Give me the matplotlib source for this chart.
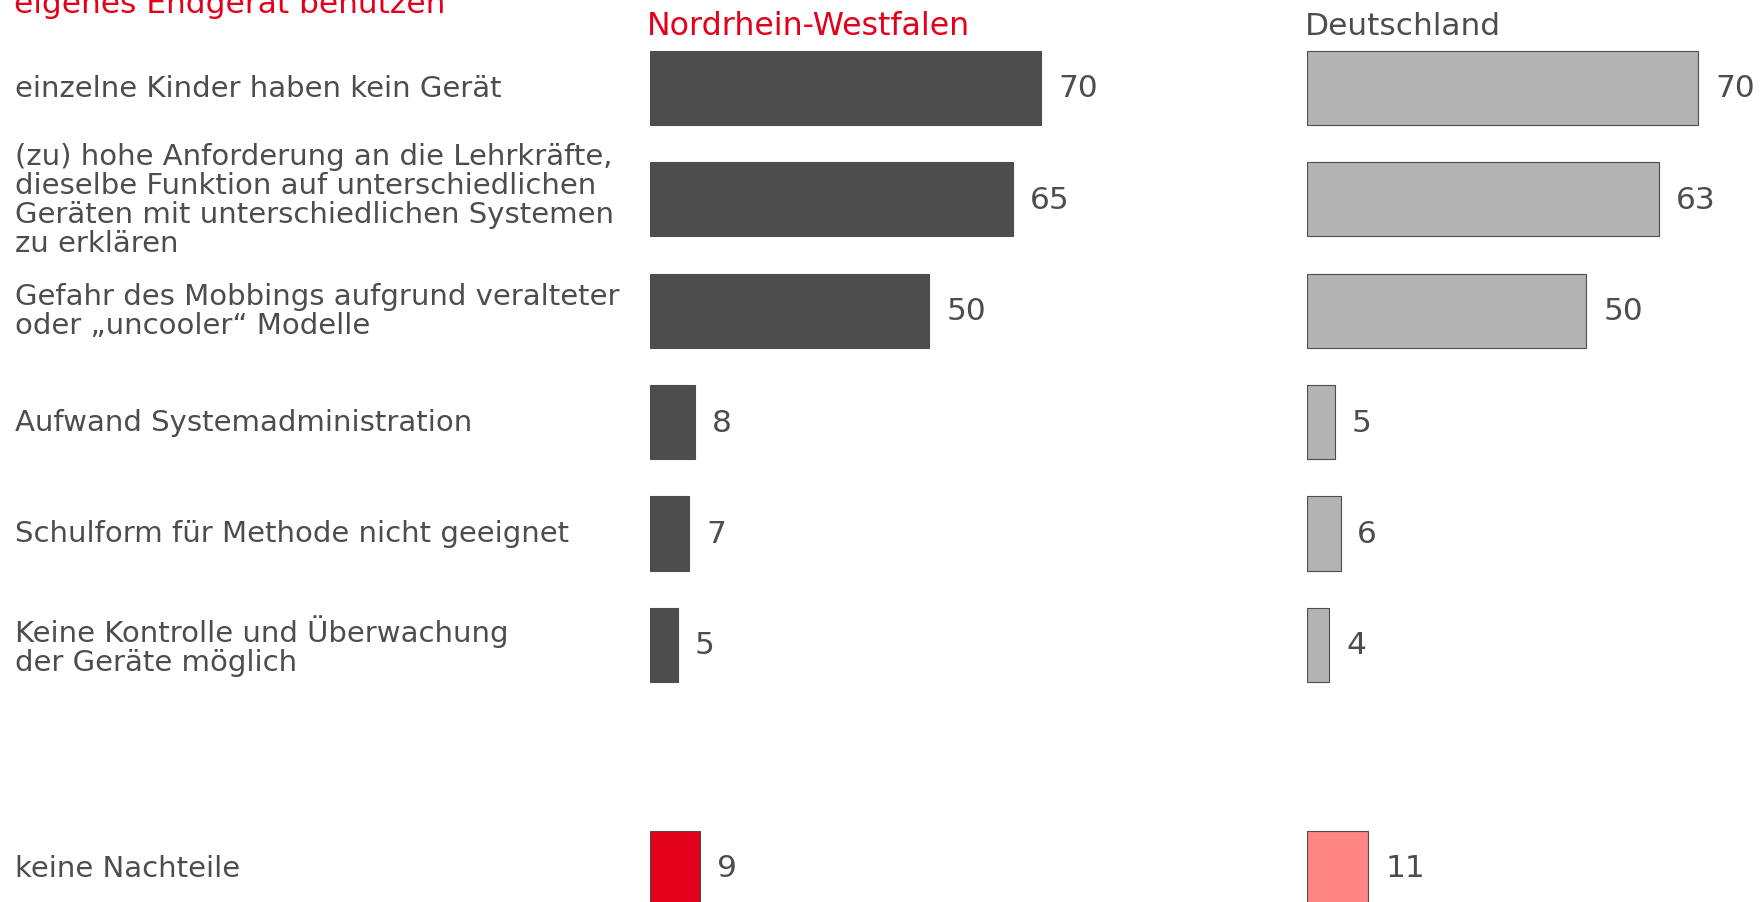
import matplotlib
matplotlib.use("Agg")
import matplotlib.pyplot as plt
import matplotlib.transforms as mtransforms

# data (percent)
categories = [
    "einzelne Kinder haben kein Gerät",
    "(zu) hohe Anforderung an die Lehrkräfte,\ndieselbe Funktion auf unterschiedlichen\n"
    "Geräten mit unterschiedlichen Systemen\nzu erklären",
    "Gefahr des Mobbings aufgrund veralteter\noder \u201euncooler\u201c Modelle",
    "Aufwand Systemadministration",
    "Schulform für Methode nicht geeignet",
    "Keine Kontrolle und Überwachung\nder Geräte möglich",
    "keine Nachteile",
]
slots = [0, 1, 2, 3, 4, 5, 7]
nrw = [70, 65, 50, 8, 7, 5, 9]
de = [70, 63, 50, 5, 6, 4, 11]

title_text = "eigenes Endgerät benutzen"
panel_titles = ["Nordrhein-Westfalen", "Deutschland"]

RED = "#e2001a"
GREY = "#4d4d4d"
nrw_colors = [GREY] * 6 + [RED]
de_colors = ["#b3b3b3"] * 6 + ["#ff8585"]

W, H = 1765, 903
fig = plt.figure(figsize=(W / 100, H / 100), dpi=100)
plt.rcParams["font.family"] = ["DejaVu Sans"]

ax_w = 80 * 5.59 / W
ax_nrw = fig.add_axes([650 / W, 0, ax_w, 1])
ax_de = fig.add_axes([1307 / W, 0, ax_w, 1])

for ax, vals, cols in ((ax_nrw, nrw, nrw_colors), (ax_de, de, de_colors)):
    ax.barh(slots, vals, height=0.667, color=cols, edgecolor=GREY, linewidth=0.8)
    for y, v in zip(slots, vals):
        ax.text(v + 3.0, y, f"{v}", va="center", ha="left", fontsize=22.5, color=GREY)
    ax.set_xlim(0, 80)
    ax.set_ylim(7.308, -0.798)
    ax.axis("off")

# category labels: x in figure space, y on the bar slots
trans = mtransforms.blended_transform_factory(fig.transFigure, ax_nrw.transData)
for y, lab in zip(slots, categories):
    ax_nrw.text(15 / W, y, lab, transform=trans, ha="left", va="center",
                fontsize=21, color=GREY, linespacing=1.05, multialignment="left")

# title line is cut by the top edge in the source as well
fig.text(14 / W, 1 - 13.3 / H, title_text, ha="left", va="baseline",
         fontsize=22.5, color=RED)
fig.text(647 / W, 1 - 35.3 / H, panel_titles[0], ha="left", va="baseline",
         fontsize=22.8, color=RED)
fig.text(1305 / W, 1 - 35.3 / H, panel_titles[1], ha="left", va="baseline",
         fontsize=22.5, color=GREY)

fig.savefig("out.png", dpi=100)
